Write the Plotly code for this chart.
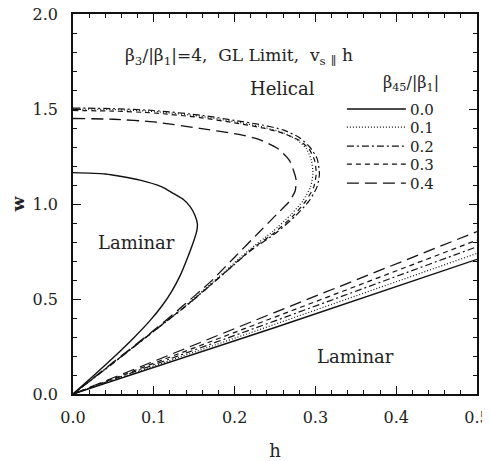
import plotly.graph_objects as go

# ---- data ----
beta45 = ["0.0", "0.1", "0.2", "0.3", "0.4"]

# closed boundary curves (upper branch from h=0 to nose, then lower branch back to origin)
c00_h = [0, 0.04, 0.083, 0.110, 0.124, 0.137, 0.145, 0.151, 0.154, 0.153, 0.149, 0.142, 0.133, 0.122, 0.110, 0.095, 0.075, 0.050, 0.025, 0]
c00_w = [1.165, 1.158, 1.126, 1.090, 1.056, 1.022, 0.986, 0.940, 0.895, 0.855, 0.800, 0.720, 0.627, 0.539, 0.463, 0.385, 0.295, 0.192, 0.095, 0]

c01_h = [0, 0.05, 0.10, 0.157, 0.20, 0.235, 0.26, 0.278, 0.289, 0.295, 0.297, 0.294, 0.285, 0.27, 0.247, 0.217, 0.18, 0.14, 0.10, 0.05, 0]
c01_w = [1.50, 1.497, 1.487, 1.462, 1.433, 1.405, 1.375, 1.335, 1.29, 1.23, 1.16, 1.09, 1.02, 0.945, 0.855, 0.755, 0.615, 0.467, 0.332, 0.165, 0]

c02_h = [0, 0.05, 0.10, 0.157, 0.20, 0.235, 0.26, 0.28, 0.293, 0.302, 0.305, 0.302, 0.292, 0.276, 0.252, 0.22, 0.183, 0.142, 0.10, 0.05, 0]
c02_w = [1.505, 1.502, 1.492, 1.468, 1.44, 1.415, 1.39, 1.35, 1.30, 1.24, 1.16, 1.09, 1.015, 0.94, 0.85, 0.755, 0.62, 0.47, 0.33, 0.163, 0]

c03_h = [0, 0.05, 0.10, 0.157, 0.20, 0.235, 0.26, 0.28, 0.292, 0.299, 0.301, 0.298, 0.288, 0.273, 0.25, 0.219, 0.182, 0.141, 0.10, 0.05, 0]
c03_w = [1.492, 1.489, 1.479, 1.455, 1.427, 1.40, 1.372, 1.335, 1.29, 1.23, 1.16, 1.09, 1.015, 0.94, 0.852, 0.755, 0.617, 0.468, 0.331, 0.165, 0]

c04_h = [0, 0.05, 0.10, 0.157, 0.20, 0.229, 0.253, 0.268, 0.276, 0.275, 0.268, 0.252, 0.23, 0.20, 0.17, 0.135, 0.10, 0.05, 0]
c04_w = [1.45, 1.446, 1.432, 1.398, 1.37, 1.342, 1.293, 1.228, 1.13, 1.07, 1.015, 0.945, 0.85, 0.72, 0.59, 0.46, 0.335, 0.168, 0]

# lower (nearly straight) boundaries
line_h = [0, 0.25, 0.5]
l00_w = [0, 0.350, 0.709]
l01_w = [0, 0.367, 0.740]
l02_w = [0, 0.385, 0.775]
l03_w = [0, 0.403, 0.810]
l04_w = [0, 0.430, 0.855]

curves_h = [c00_h, c01_h, c02_h, c03_h, c04_h]
curves_w = [c00_w, c01_w, c02_w, c03_w, c04_w]
lines_w = [l00_w, l01_w, l02_w, l03_w, l04_w]

# ---- styles ----
dashes = ["solid", "1px,2px", "7px,3px,2px,3px", "5px,4px", "12px,6px"]
widths = [1.4, 1.2, 1.2, 1.2, 1.3]
INK = "#111111"
FONT = "DejaVu Serif"

fig = go.Figure()
for i in range(5):
    fig.add_trace(go.Scatter(x=curves_h[i], y=curves_w[i], mode="lines",
                             line=dict(color=INK, width=widths[i], dash=dashes[i], shape="spline", smoothing=0.6),
                             name=beta45[i], showlegend=False, hoverinfo="skip"))
    fig.add_trace(go.Scatter(x=line_h, y=lines_w[i], mode="lines",
                             line=dict(color=INK, width=widths[i], dash=dashes[i]),
                             name=beta45[i], showlegend=False, hoverinfo="skip"))

axis_common = dict(
    showline=True, linecolor=INK, linewidth=1.5, mirror="allticks",
    ticks="inside", ticklen=8, tickwidth=1.2, tickcolor=INK,
    showgrid=False, zeroline=False, automargin=False, ticklabeloverflow="allow",
    tickfont=dict(family=FONT, size=16, color="#222"),
    minor=dict(ticks="inside", ticklen=4, tickwidth=1, tickcolor=INK, showgrid=False),
)

fig.update_xaxes(range=[0, 0.5], dtick=0.1, tickformat=".1f", minor_dtick=0.02,
                 ticklabelstandoff=8,
                 title=dict(text="h", font=dict(family=FONT, size=18, color="#222"), standoff=22),
                 **axis_common)
fig.update_yaxes(range=[0, 2.0], dtick=0.5, tickformat=".1f", minor_dtick=0.1,
                 ticklabelstandoff=10,
                 title=dict(text="<b>w</b>", font=dict(family=FONT, size=17, color="#222"), standoff=14),
                 **axis_common)

ann_font = dict(family=FONT, size=17, color="#222")
annotations = [
    dict(x=0.206, y=1.775, text="β<sub>3</sub>/|β<sub>1</sub>|=4,  GL Limit,  v<sub>s</sub> <sub>∥</sub> h",
         font=ann_font),
    dict(x=0.259, y=1.61, text="Helical", font=dict(family=FONT, size=18, color="#222")),
    dict(x=0.079, y=0.80, text="Laminar", font=dict(family=FONT, size=18, color="#222")),
    dict(x=0.350, y=0.195, text="Laminar", font=dict(family=FONT, size=18, color="#222")),
    dict(x=0.418, y=1.635, text="β<sub>45</sub>/|β<sub>1</sub>|", font=dict(family=FONT, size=16, color="#222")),
]
# legend built from the series names
leg_y = [1.50, 1.405, 1.305, 1.21, 1.11]
shapes = []
for i in range(5):
    annotations.append(dict(x=0.415, y=leg_y[i], text=beta45[i], xanchor="left", height=17,
                            font=dict(family=FONT, size=15, color="#222")))
    shapes.append(dict(type="line", xref="x", yref="y", x0=0.339, x1=0.412, y0=leg_y[i], y1=leg_y[i],
                       line=dict(color=INK, width=widths[i], dash=dashes[i])))
for a in annotations:
    a.update(xref="x", yref="y", showarrow=False)

# the page body adds an 8px margin, so the figure is sized to fill the rest of the window
fig.update_layout(
    width=482, height=453,
    margin=dict(l=65, r=13, t=6, b=67),
    paper_bgcolor="white", plot_bgcolor="white",
    annotations=annotations, shapes=shapes,
    showlegend=False,
)

fig.write_html("out.html")
